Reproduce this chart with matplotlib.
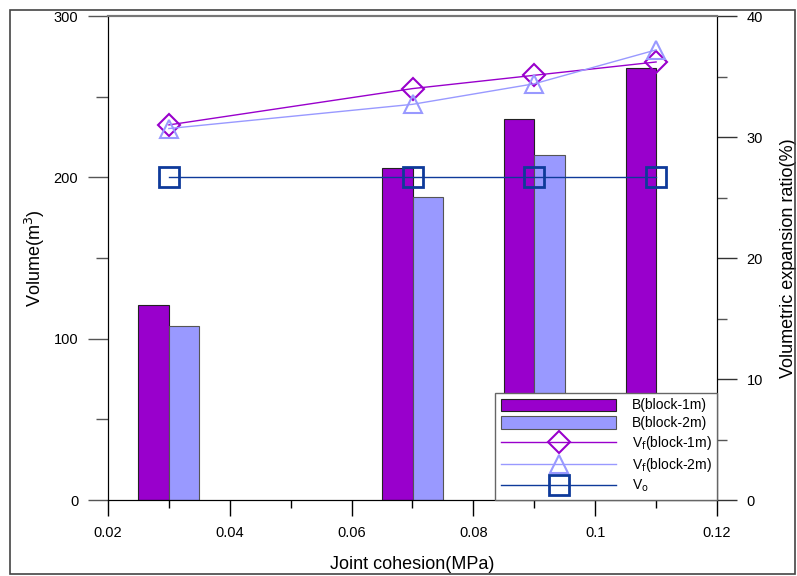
import matplotlib
matplotlib.use("Agg")
import matplotlib.pyplot as plt
import numpy as np
from matplotlib.patches import Rectangle
from matplotlib.ticker import MultipleLocator

plt.rcParams['font.family'] = ['Liberation Sans', 'DejaVu Sans']

# Data
cohesion = [0.03, 0.07, 0.09, 0.11]
vol_block1 = [121, 206, 236, 268]
vol_block2 = [108, 188, 214, np.nan]
vf_block1 = [31.0, 34.0, 35.1, 36.2]
vf_block2 = [30.7, 32.7, 34.4, 37.2]
v_o = [200, 200, 200, 200]

c_purple = '#9900CC'
c_lblue = '#9999FF'
c_navy = '#0E3A9A'

fig = plt.figure(figsize=(7.97, 5.76), dpi=100)
ax = fig.add_axes([108/797, 1-500/576, (717-108)/797, (500-16)/576])
ax2 = ax.twinx()

w = 0.005
b1 = ax.bar(np.array(cohesion) - w/2, vol_block1, width=w, color=c_purple,
            edgecolor='#222222', linewidth=0.8, label='B(block-1m)', zorder=2)
b2 = ax.bar(np.array(cohesion) + w/2, vol_block2, width=w, color=c_lblue,
            edgecolor='#555555', linewidth=0.8, label='B(block-2m)', zorder=2)
l3, = ax2.plot(cohesion, vf_block1, color=c_purple, lw=1, marker='D', ms=11,
               mfc='none', mec=c_purple, mew=1.5, label='V$_f$(block-1m)')
l4, = ax2.plot(cohesion, vf_block2, color=c_lblue, lw=1, marker='^', ms=13,
               mfc='none', mec=c_lblue, mew=1.5, label='V$_f$(block-2m)')
l5, = ax.plot(cohesion, v_o, color=c_navy, lw=1, marker='s', ms=14,
              mfc='none', mec=c_navy, mew=2, label='V$_o$', zorder=3)

ax.set_xlim(0.02, 0.12)
ax.set_ylim(0, 300)
ax2.set_ylim(0, 40)
ax.set_xticks([0.02, 0.04, 0.06, 0.08, 0.1, 0.12])
ax.set_xticklabels(['0.02', '0.04', '0.06', '0.08', '0.1', '0.12'])
ax.xaxis.set_minor_locator(MultipleLocator(0.01))
ax.set_yticks([0, 100, 200, 300])
ax.yaxis.set_minor_locator(MultipleLocator(50))
ax2.set_yticks([0, 10, 20, 30, 40])
ax2.yaxis.set_minor_locator(MultipleLocator(5))

ax.tick_params(axis='x', which='major', direction='out', length=11.5, width=1,
               labelsize=10.5, pad=7)
ax.tick_params(axis='x', which='minor', direction='out', length=6, width=1)
ax.tick_params(axis='y', which='major', direction='out', length=14.4, width=1,
               labelsize=10.5, pad=7, color='#555555')
ax.tick_params(axis='y', which='minor', direction='out', length=8.6, width=1, color='#555555')
ax2.tick_params(axis='y', which='major', direction='out', length=14.4, width=1,
                labelsize=10.5, pad=7, color='#333333')
ax2.tick_params(axis='y', which='minor', direction='out', length=7.2, width=1, color='#555555')

for a in (ax, ax2):
    a.spines['top'].set_color('#777777')
    a.spines['top'].set_linewidth(1.5)

ax.set_xlabel('Joint cohesion(MPa)', fontsize=13, labelpad=12)
ax.set_ylabel('Volume(m$^3$)', fontsize=13, labelpad=5)
ax2.set_ylabel('Volumetric expansion ratio(%)', fontsize=13, labelpad=12)

leg = ax2.legend([b1, b2, l3, l4, l5],
                 ['B(block-1m)', 'B(block-2m)', 'V$_\\mathrm{f}$(block-1m)',
                  'V$_\\mathrm{f}$(block-2m)', 'V$_\\mathrm{o}$'],
                 loc='lower right', bbox_to_anchor=(1.0, 0.0), fontsize=10,
                 frameon=True, fancybox=False, edgecolor='#666666', framealpha=1,
                 handlelength=8.3, handleheight=1.0, borderaxespad=0, labelspacing=0.28,
                 borderpad=0.4, handletextpad=1.1)
leg.get_frame().set_linewidth(1)

fig.patches.append(Rectangle((10/797, 2/576), 785/797, 564/576, transform=fig.transFigure,
                             fill=False, edgecolor='#444444', linewidth=1.2))

fig.savefig('out.png', dpi=100)
